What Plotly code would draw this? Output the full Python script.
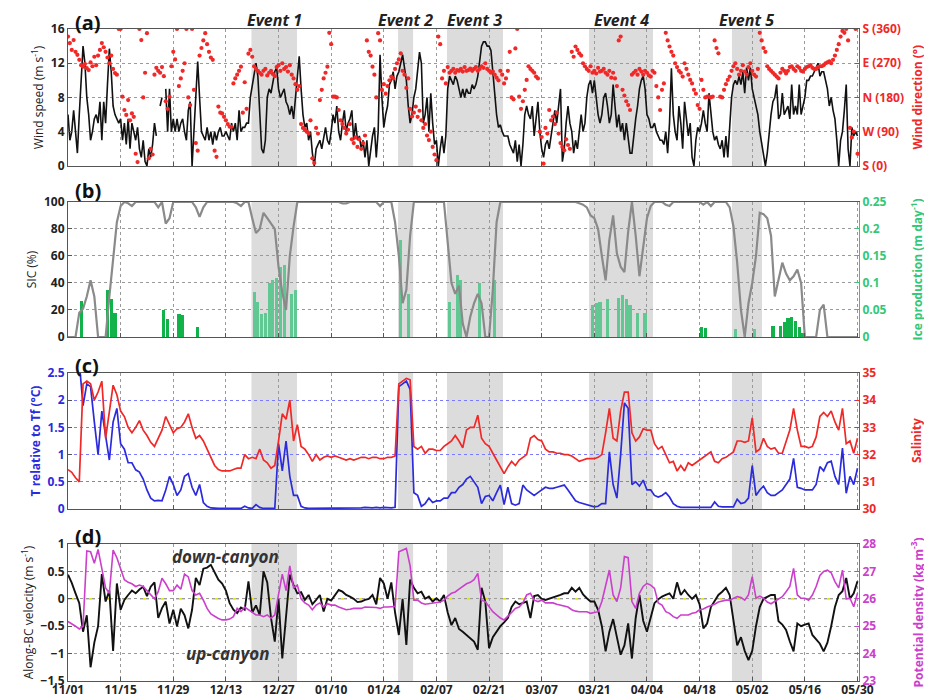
import numpy as np
import pandas as pd
import plotly.graph_objects as go

start = pd.Timestamp("2016-11-01")

# ---------------- (a) wind speed (m/s), 12-hourly ----------------
wind_speed = [
    6, 3, 4, 6.5, 4, 1.5, 6, 10, 14, 12,
    8, 6, 3, 4, 5.5, 6, 5, 7.5, 3, 7.5,
    5, 9.5, 13.7, 11, 7, 6, 5.5, 5, 5.5, 3,
    5, 2.5, 5.5, 2, 5, 4, 3, 4.5, 2, 1,
    3, 0.5, 0, 2, 1, 2.5, 5, 3.5, None, 7,
    8, None, 9, 4, 9, 4, 5.5, 4, 5.5, 4,
    5, 5.5, 4, 3, 6.5, 7.5, 0, 4.5, 9, 12.2,
    8, 4, 3.5, 3, 4.5, 3, 4, 2.5, 4, 3,
    4, 4.5, 3.5, 3.5, 4, 3.5, 3, 5, 4, 5,
    3, 6.5, 4, 4.5, 4.5, 5, 5, 8, 9.5, 11,
    12, 10.5, 6, 2, 1.5, 3, 8, 9, 8.5, 10,
    11, 11.5, 9, 8, 8.5, 9, 7.5, 7, 6, 7,
    5.5, 8, 11, 12.8, 9, 6, 4.5, 5, 3, 4,
    1.5, 0, 2, 2.5, 3, 2, 3.5, 4.5, 3, 2.5,
    4, 6, 5, 7, 4, 3, 5, 6.5, 4, 5,
    5.5, 6.5, 3, 5, 3, 3.5, 2, 3, 1, 3,
    0, 2, 3.5, 4.5, 1, 4, 13, 8, 4.5, 6,
    7, 9.5, 10, 11, 9, 10.5, 11, 12, 13, 11.5,
    10, 7, 5, 6, 8, 9, 11, 13.3, 12, 5,
    6, 8, 4, 8.5, 5, 2.5, 3, 0, 2, 3.5,
    1.5, 3.5, 9, 10.5, 10, 9.5, 10.5, 10, 9, 8,
    9, 8, 9, 8.5, 8.5, 9.5, 9, 9.5, 10.5, 12,
    14, 14.5, 14.5, 14, 14, 13.5, 11, 8, 6, 4.5,
    4.8, 4, 3.5, 3.5, 3.5, 2.5, 2, 1.5, 3, 0.5,
    2.5, 0, 2.5, 6, 7, 6, 5.5, 7, 3.5, 6,
    7.5, 4, 2, 1, 2.5, 3, 2, 3.5, 5, 6.5,
    5, 7, 9, 0.5, 2, 5, 7, 5, 4, 1.5,
    3, 2, 4, 6, 4, 5, 8, 9.5, 10, 8.5,
    10, 8, 6, 5, 6, 8, 8.5, 7, 5, 6,
    9.5, 7, 4.5, 6, 4, 5, 3, 5, 3, 1.5,
    1.5, 4, 5.5, 7, 9, 10, 10.5, 9, 6, 5.5,
    4.5, 4.5, 5, 4, 3.5, 3, 3, 2.5, 4, 1.5,
    5, 11.4, 6, 4, 3, 7, 5, 2, 7.5, 5,
    3.5, 5, 1, 0, 3, 4.5, 4, 5, 6.5, 5,
    4, 8.5, 6, 4, 3, 3.5, 2.5, 2, 3, 1,
    3.5, 1, 4.5, 8, 9.5, 10, 9.5, 10.5, 9.5, 11,
    8.5, 11.5, 10, 11.5, 9, 8, 7, 6, 4, 2.5,
    1, 0, 1.5, 4, 6, 7.5, 8, 9.5, 5.5, 6,
    8.5, 6, 6.5, 7, 5.5, 9.5, 6, 7, 6, 9.5,
    6, 7, 8, 10, 10, 10.5, 10.5, 11, 11.5, 12,
    10.5, 11, 11, 10, 9, 7, 8, 6.5, 5.5, 3,
    0, 3, 4, 6.5, 9.5, 2, 0, 4.5, 3.5, 4,
    3.5,
]

# wind direction (degrees), 12-hourly
wind_dir = [
    340, 323, 305, 331, 300, 292, 279, 265, 261, 268,
    257, 252, 272, 262, 287, 265, 290, 305, 323, 312,
    300, 285, 270, 290, 255, 244, 240, 360, 360, 182,
    147, 134, 173, 120, 138, 129, 32, 10, 360, 331,
    180, 245, 349, 20, 45, 30, 240, 258, 250, 245,
    260, 236, 170, 150, 182, 262, 300, 280, 360, 210,
    230, 250, 270, 360, 180, 160, 360, 200, 60, 40,
    290, 310, 330, 349, 320, 300, 285, 279, 40, 24,
    156, 140, 138, 129, 120, 110, 103, 103, 217, 230,
    240, 250, 261, 140, 220, 150, 295, 305, 287, 262,
    255, 250, 245, 240, 250, 255, 238, 245, 250, 242,
    236, 260, 265, 250, 270, 255, 260, 248, 265, 240,
    230, 215, 200, 210, 110, 100, 95, 90, 85, 120,
    20, 8, 100, 85, 173, 200, 230, 245, 261, 350,
    320, 182, 182, 180, 147, 120, 110, 100, 85, 95,
    110, 70, 60, 75, 50, 70, 45, 60, 80, 330,
    300, 290, 261, 240, 180, 349, 330, 200, 215, 190,
    210, 225, 235, 230, 255, 270, 280, 296, 250, 240,
    205, 230, 150, 130, 140, 156, 129, 145, 120, 100,
    110, 80, 68, 90, 50, 30, 15, 340, 320, 230,
    250, 217, 260, 245, 250, 255, 245, 252, 250, 255,
    248, 260, 250, 252, 256, 250, 255, 260, 250, 255,
    262, 258, 270, 255, 250, 245, 248, 240, 232, 225,
    250, 240, 217, 230, 250, 300, 180, 175, 309, 360,
    182, 150, 170, 200, 226, 262, 255, 250, 245, 235,
    230, 90, 76, 6, 100, 85, 147, 120, 130, 110,
    140, 85, 60, 50, 41, 70, 55, 45, 300, 287,
    314, 305, 296, 290, 270, 262, 255, 250, 262, 245,
    250, 243, 258, 248, 250, 255, 245, 240, 250, 232,
    245, 230, 210, 330, 340, 200, 185, 170, 160, 147,
    240, 245, 250, 240, 255, 248, 240, 250, 245, 238,
    235, 250, 245, 210, 180, 147, 200, 217, 350, 330,
    314, 300, 290, 270, 260, 250, 245, 235, 270, 255,
    240, 226, 217, 200, 190, 160, 150, 226, 200, 180,
    182, 182, 180, 182, 330, 310, 296, 182, 180, 200,
    215, 226, 235, 250, 262, 270, 255, 240, 250, 265,
    248, 240, 260, 270, 250, 240, 235, 255, 350, 330,
    310, 300, 262, 255, 250, 245, 240, 235, 230, 245,
    255, 250, 243, 250, 260, 262, 255, 250, 262, 258,
    250, 248, 255, 260, 262, 265, 258, 255, 255, 260,
    262, 262, 265, 270, 272, 275, 270, 279, 290, 305,
    320, 340, 355, 350, 360, 330, 100, 75, 90, 360,
    32,
]

# ---------------- (b) sea-ice concentration (%), daily ----------------
sic = [
    0, 0, 0, 18, 21, 30, 42, 30, 0, 0,
    0, 30, 55, 85, 97, 100, 99, 97, 100, 100,
    100, 100, 100, 100, 96, 100, 84, 88, 100, 100,
    100, 100, 100, 100, 96, 89, 96, 100, 100, 100,
    100, 100, 100, 100, 100, 99, 97, 100, 100, 88,
    77, 80, 92, 88, 84, 80, 52, 33, 20, 60,
    82, 100, 100, 100, 100, 100, 100, 100, 100, 100,
    100, 100, 100, 99, 99, 100, 100, 100, 100, 100,
    100, 100, 100, 97, 100, 100, 100, 85, 60, 25,
    35, 75, 100, 100, 100, 100, 100, 100, 100, 100,
    100, 70, 40, 32, 38, 10, 0, 15, 25, 32,
    25, 0, 0, 35, 85, 100, 100, 100, 100, 100,
    100, 100, 100, 100, 100, 100, 100, 100, 100, 100,
    100, 100, 100, 100, 100, 100, 99, 98, 96, 90,
    88, 80, 60, 42, 72, 90, 62, 52, 48, 78,
    100, 75, 45, 65, 88, 97, 100, 100, 100, 98,
    97, 100, 100, 100, 100, 100, 100, 100, 100, 98,
    100, 97, 100, 100, 100, 100, 96, 82, 55, 20,
    0, 25, 40, 60, 92, 91, 88, 75, 30, 42,
    55, 47, 42, 45, 50, 40, 0, 0, 0, 0,
    20, 24, 0, 0, 0, 0, 0, 0, 0, 0,
    0,
]

# ice production (m/day): day index since 11/01 and value
ice_day = [3, 10, 11, 12, 25, 26, 29, 30, 34, 49, 50, 51, 52, 53, 54, 55, 56, 57,
           59, 60, 88, 90, 101, 103, 104, 109, 113, 139, 140, 141, 143, 146, 147,
           148, 149, 151, 153, 168, 169, 177, 182, 187, 189, 190, 191, 192, 193, 194, 195]
ice_prod = [0.067, 0.088, 0.07, 0.045, 0.05, 0.033, 0.043, 0.04, 0.018, 0.083, 0.065,
            0.043, 0.045, 0.1, 0.105, 0.11, 0.13, 0.133, 0.08, 0.088, 0.18, 0.08,
            0.065, 0.115, 0.105, 0.1, 0.105, 0.06, 0.063, 0.065, 0.07, 0.072, 0.078,
            0.07, 0.06, 0.045, 0.045, 0.018, 0.017, 0.015, 0.015, 0.02, 0.02, 0.027,
            0.035, 0.038, 0.03, 0.018, 0.008]

# ---------------- (c) temperature above freezing and salinity, daily ----------------
temp_rel = [
    None, None, None, 2.7, 1.9, 2.3, 2.25, 1.6, 1.0, 1.8,
    1.3, 0.9, 1.6, 1.85, 1.2, 1.1, 0.85, 0.85, 0.72, 0.68,
    0.55, 0.35, 0.2, 0.15, 0.16, 0.15, 0.35, 0.6, 0.45, 0.25,
    0.35, 0.6, 0.65, 0.4, 0.25, 0.45, 0.12, 0.05, 0.02, 0.01,
    0.01, 0.01, 0.01, 0.01, 0.01, 0.02, 0.01, 0.05, 0.02, 0.01,
    0.08, 0.03, 0.01, 0.01, 0.01, 0.01, 1.2, 0.7, 1.25, 0.6,
    0.25, 0.25, 0.05, 0.02, 0.01, 0.01, 0.02, 0.01, 0.01, 0.02,
    0.01, 0.01, 0.02, 0.01, 0.01, 0.02, 0.01, 0.01, 0.02, 0.03,
    0.02, 0.02, 0.03, 0.02, 0.03, 0.02, 0.02, 0.03, 2.25, 2.3,
    2.35, 2.2, 0.3, 0.25, 0.05, 0.1, 0.2, 0.12, 0.15, 0.15,
    0.2, 0.2, 0.3, 0.3, 0.4, 0.45, 0.55, 0.6, 0.5, 0.4,
    0.1, 0.23, 0.25, 0.15, 0.3, 0.44, 0.08, 0.4, 0.1, 0.07,
    0.1, 0.44, 0.35, 0.3, 0.25, 0.3, 0.35, 0.4, 0.38, 0.38,
    0.4, 0.42, 0.44, 0.35, 0.25, 0.15, 0.12, 0.1, 0.07, 0.05,
    0.04, 0.05, 0.1, 0.1, 1.05, 0.45, 0.2, 1.0, 1.95, 1.85,
    0.45, 0.5, 0.42, 0.53, 0.35, 0.35, 0.25, 0.22, 0.25, 0.3,
    0.22, 0.1, 0.05, 0.03, 0.03, 0.03, 0.03, 0.03, 0.03, 0.04,
    0.03, 0.03, 0.13, 0.05, 0.04, 0.04, 0.04, 0.04, 0.18, 0.1,
    0.12, 0.2, 0.8, 0.25, 0.35, 0.42, 0.3, 0.25, 0.25, 0.3,
    0.35, 0.45, 0.55, 0.93, 0.4, 0.38, 0.35, 0.35, 0.35, 0.45,
    0.78, 0.7, 0.85, 0.88, 0.6, 0.45, 1.12, 0.29, 0.6, 0.45,
    0.75,
]

salinity = [
    31.45, 31.35, 31.15, 31.0, 34.6, 34.7, 34.6, 34.0, 34.3, 34.7,
    32.6, 33.5, 34.55, 34.2, 33.6, 33.4, 33.0, 32.8, 33.0, 33.25,
    32.9, 32.7, 32.45, 32.3, 32.6, 32.9, 33.4, 33.1, 32.8, 32.95,
    33.0, 33.2, 33.5, 33.0, 32.6, 32.7, 32.5, 32.2, 31.9, 31.6,
    31.45, 31.4, 31.4, 31.4, 31.45, 31.5, 31.5, 32.0, 31.85, 31.9,
    31.85, 32.2, 31.8, 31.7, 31.5, 31.6, 32.5, 33.5, 33.3, 34.0,
    32.5, 33.1, 32.3, 32.2, 32.0, 31.75, 32.0, 31.8, 31.9, 31.95,
    31.9, 31.95, 31.9, 31.85, 31.8, 31.85, 31.8, 31.85, 31.9, 31.9,
    31.85, 31.9, 31.9, 31.85, 31.85, 31.9, 31.9, 31.95, 34.6, 34.7,
    34.8, 34.75, 32.3, 32.2, 32.3, 32.05, 32.2, 32.2, 32.15, 32.15,
    32.3, 32.4, 32.5, 32.7, 32.5, 32.25, 32.9, 33.0, 33.0, 33.45,
    32.6, 32.4, 32.3, 32.05, 31.8, 31.5, 31.3, 31.55, 31.75, 31.6,
    31.8, 31.9, 32.0, 32.6, 32.7, 32.55, 32.5, 32.2, 32.1, 32.1,
    32.05, 32.05, 32.0, 32.0, 31.95, 31.85, 31.75, 31.8, 31.85, 31.85,
    31.85, 31.9, 32.0, 32.8, 33.7, 32.6, 32.5, 33.6, 34.3, 34.3,
    32.8, 32.5, 32.65, 32.95, 32.9, 32.9, 32.4, 32.2, 32.3, 32.0,
    31.7, 31.75, 31.4, 31.6, 31.4, 31.7, 31.6, 31.7, 31.8, 31.9,
    32.0, 32.1, 31.75, 31.7, 31.85, 31.9, 32.0, 32.1, 32.5, 32.5,
    32.45, 32.5, 33.35, 32.1, 32.2, 32.6, 32.3, 32.2, 32.25, 32.05,
    32.05, 32.5, 32.9, 33.7, 32.9, 32.3, 32.3, 32.25, 32.3, 32.65,
    33.4, 33.55, 33.4, 33.6, 33.2, 32.9, 33.7, 32.4, 32.5, 32.05,
    32.6,
]

# ---------------- (d) along-BC velocity (m/s) and potential density, daily ----------------
velocity = [
    0.44, 0.29, 0.1, -0.08, -0.6, -0.3, -1.25, -0.8, -0.5, 0.45,
    -0.05, 0.15, -0.95, 0.28, -0.2, -0.02, 0.07, 0.15, 0.1, 0.17,
    0.22, 0.05, 0.22, 0.3, -0.35, -0.17, -0.05, -0.45, -0.2, -0.5,
    -0.18, -0.3, -0.54, -0.2, 0.38, 0.25, 0.55, 0.57, 0.62, 0.48,
    0.35, 0.28, 0.15, -0.08, -0.2, -0.26, -0.16, -0.2, 0.32, -0.25,
    -0.12, -0.3, 0.5, 0.3, -0.35, -0.78, 0.0, -1.09, -0.3, 0.44,
    0.25, 0.1, 0.12, -0.02, 0.07, -0.1, -0.02, 0.07, -0.23, 0.0,
    -0.03, 0.07, 0.16, 0.13, 0.07, 0.04, 0.0, -0.06, -0.05, -0.02,
    0.0, 0.07, -0.1, 0.38, 0.28, 0.0, 0.3, -0.25, -0.66, 0.0,
    -0.84, 0.35, 0.2, 0.1, 0.13, 0.0, 0.04, -0.05, 0.01, -0.05,
    0.07, -0.25, -0.48, -0.35, -0.55, -0.6, -0.66, -0.72, -0.78, -0.93,
    0.2, -0.05, -0.9, -0.7, -0.6, -0.5, -0.43, -0.35, -0.15, -0.05,
    -0.1, -0.08, -0.05, -0.35, 0.05, 0.07, 0.0, -0.02, 0.0, 0.02,
    0.04, 0.07, 0.1, 0.1, 0.2, 0.13, 0.2, 0.08, 0.01, -0.05,
    -0.05, -0.2, -0.5, -0.96, -0.6, -0.37, -0.7, -1.02, -0.85, -0.45,
    -1.09, -0.35, 0.07, -0.4, -0.6, -0.35, -0.08, -0.01, 0.04, 0.07,
    0.1, 0.0, 0.3, 0.07, 0.16, 0.07, 0.0, 0.07, -0.1, -0.54,
    -0.45, -0.15, -0.05, 0.07, 0.13, 0.2, 0.07, -0.4, -0.85, -0.7,
    -0.95, -1.12, -0.95, -0.5, -0.15, 0.0, 0.04, 0.07, 0.07, -0.41,
    -0.47, -0.57, -0.78, -0.96, -0.45, -0.5, -0.47, -0.45, -0.66, -0.75,
    -0.82, -0.96, -0.8, -0.5, -0.15, 0.07, 0.14, 0.38, 0.0, 0.1,
    0.32,
]

density = [
    25.17, 25.1, 25.0, 24.9, 25.0, 27.75, 27.72, 27.3, 27.8, 27.1,
    26.4, 26.2, 27.78, 27.5, 27.1, 26.7, 26.6, 26.55, 26.45, 26.5,
    26.45, 26.3, 26.15, 26.0, 26.26, 26.75, 26.55, 26.3, 26.3, 26.5,
    26.35, 26.9, 26.8, 26.3, 26.14, 26.2, 25.95, 25.65, 25.45, 25.35,
    25.28, 25.23, 25.23, 25.26, 25.35, 25.65, 25.53, 25.7, 25.6, 25.53,
    25.41, 25.41, 25.35, 25.41, 25.29, 25.41, 26.1, 26.9, 26.3, 27.2,
    26.4, 26.5, 26.0, 25.85, 25.77, 25.6, 25.77, 25.85, 25.7, 25.82,
    25.77, 25.77, 25.7, 25.65, 25.6, 25.62, 25.65, 25.65, 25.65, 25.7,
    25.7, 25.7, 25.68, 25.65, 25.7, 25.7, 25.7, 25.72, 27.72, 27.78,
    27.84, 27.2, 25.95, 25.95, 25.85, 25.8, 25.82, 25.82, 25.85, 25.88,
    25.95, 26.1, 26.2, 26.25, 26.35, 26.45, 26.55, 26.6, 26.7, 26.93,
    25.95, 25.9, 25.7, 25.53, 25.41, 25.3, 25.23, 25.35, 25.5, 25.65,
    25.7, 25.85, 26.14, 26.2, 25.95, 25.9, 25.95, 25.85, 25.85, 25.85,
    25.8, 25.77, 25.72, 25.7, 25.6, 25.55, 25.53, 25.53, 25.53, 25.47,
    25.5, 25.53, 25.9, 26.5, 27.05, 26.14, 25.9, 26.4, 27.54, 27.5,
    25.9, 25.65, 26.2, 26.45, 26.56, 26.5, 26.38, 25.85, 25.77, 25.53,
    25.47, 25.35, 25.29, 25.41, 25.4, 25.41, 25.47, 25.5, 25.6, 25.63,
    25.7, 25.75, 25.8, 25.88, 25.92, 25.95, 25.95, 26.02, 26.08, 26.05,
    25.95, 26.14, 26.81, 26.02, 26.1, 26.02, 25.88, 25.82, 25.9, 26.0,
    26.08, 26.26, 26.45, 27.11, 26.14, 26.02, 26.02, 25.95, 26.14, 26.45,
    26.85, 27.0, 27.05, 26.95, 26.63, 26.4, 27.05, 26.0, 26.02, 25.71,
    26.2,
]

# event periods (days since 11/01)
event_names = ["Event 1", "Event 2", "Event 3", "Event 4", "Event 5"]
event_start = [48.8, 87.8, 100.8, 138.6, 176.6]
event_end = [60.9, 91.8, 115.7, 155.6, 184.6]

dir_ticks = [0, 90, 180, 270, 360]
dir_labels = ["S (0)", "W (90)", "N (180)", "E (270)", "S (360)"]

assert len(wind_speed) == len(wind_dir) == 421
for arr in (sic, temp_rel, salinity, velocity, density):
    assert len(arr) == 211

# ---------------- build ----------------
half_day = start + pd.to_timedelta(np.arange(len(wind_speed)) * 12, unit="h")
daily = start + pd.to_timedelta(np.arange(len(sic)), unit="D")


def day_to_date(d):
    return (start + pd.Timedelta(minutes=int(round(d * 1440)))).strftime("%Y-%m-%d %H:%M")


ice_x = [day_to_date(d + 0.5) for d in ice_day]
in_event = [any(s <= d + 0.5 <= e for s, e in zip(event_start, event_end)) for d in ice_day]
ice_colors = ["#62c893" if f else "#12b24a" for f in in_event]

RED = "#f02828"
GREEN = "#33c878"
BLUE = "#2b2bdd"
MAGENTA = "#cc3fcc"
FONT = "Open Sans"

fig = go.Figure()

# (a)
fig.add_trace(go.Scatter(x=half_day, y=wind_speed, mode="lines",
                         line=dict(color="#111", width=1.6), xaxis="x", yaxis="y",
                         connectgaps=False))
fig.add_trace(go.Scatter(x=half_day, y=wind_dir, mode="markers",
                         marker=dict(color=RED, size=4.2), xaxis="x", yaxis="y2"))
# (b)
fig.add_trace(go.Bar(x=ice_x, y=ice_prod, marker=dict(color=ice_colors, line=dict(width=0)),
                     width=0.85 * 86400000, xaxis="x2", yaxis="y4"))
fig.add_trace(go.Scatter(x=daily, y=sic, mode="lines",
                         line=dict(color="#8a8a8a", width=2.2), xaxis="x2", yaxis="y3"))
# (c)
fig.add_trace(go.Scatter(x=daily, y=temp_rel, mode="lines",
                         line=dict(color=BLUE, width=1.7), xaxis="x3", yaxis="y5"))
fig.add_trace(go.Scatter(x=daily, y=salinity, mode="lines",
                         line=dict(color=RED, width=1.7), xaxis="x3", yaxis="y6"))
# (d)
fig.add_trace(go.Scatter(x=daily, y=velocity, mode="lines",
                         line=dict(color="#111", width=1.9), xaxis="x4", yaxis="y7"))
fig.add_trace(go.Scatter(x=daily, y=density, mode="lines",
                         line=dict(color=MAGENTA, width=1.6), xaxis="x4", yaxis="y8"))

dom_a = [0.790, 1.0]
dom_b = [0.5276, 0.7347]
dom_c = [0.2638, 0.4724]
dom_d = [0.0, 0.2101]

x_range = [day_to_date(0), day_to_date(210.4)]
DAY = 86400000


def xaxis(anchor, show_labels):
    return dict(anchor=anchor, domain=[0, 1], type="date", range=x_range, automargin=False,
                tick0=day_to_date(0), dtick=14 * DAY, tickformat="%m/%d",
                showticklabels=show_labels, ticks="inside", ticklen=4, tickcolor="#555",
                ticklabelstandoff=-2,
                showgrid=True, gridcolor="#9a9a9a", griddash="dot", gridwidth=1,
                showline=True, mirror=True, linecolor="#555", linewidth=1,
                tickfont=dict(family=FONT, size=12, color="#222", weight="bold"),
                zeroline=False)


def left_axis(domain, rng, dtick, title, color="#222", gridcolor="#9a9a9a", anchor="x",
              overlaying=None, tcolor=None, tweight="normal"):
    d = dict(range=rng, dtick=dtick, anchor=anchor, side="left", automargin=False,
             ticks="inside", ticklen=4, tickcolor="#555",
             showgrid=True, gridcolor=gridcolor, griddash="dot", gridwidth=1,
             showline=True, linecolor="#555", linewidth=1, zeroline=False,
             tickfont=dict(family=FONT, size=12, color=color, weight="bold"),
             title=dict(text=title, standoff=4,
                        font=dict(family=FONT, size=12, color=tcolor or color, weight=tweight)))
    if overlaying:
        d["overlaying"] = overlaying
    else:
        d["domain"] = domain
    return d


def right_axis(domain, rng, color, anchor, overlaying=None, **kw):
    d = dict(range=rng, anchor=anchor, side="right", automargin=False,
             ticks="inside", ticklen=4, tickcolor=color,
             showgrid=False, showline=True, linecolor=color, linewidth=1, zeroline=False,
             tickfont=dict(family=FONT, size=12, color=color, weight="bold"))
    if overlaying:
        d["overlaying"] = overlaying
    else:
        d["domain"] = domain
    d.update(kw)
    return d


# the page body adds an 8 px offset; figure size and margins compensate for it
layout = dict(
    width=924, height=692,
    margin=dict(l=60, r=73, t=21, b=19, autoexpand=False),
    paper_bgcolor="white", plot_bgcolor="white",
    showlegend=False, bargap=0,
    xaxis=xaxis("y", False),
    xaxis2=xaxis("y4", False),
    xaxis3=xaxis("y5", False),
    xaxis4=xaxis("y7", True),
    yaxis=left_axis(dom_a, [0, 16], 4, "Wind speed (m s<sup>-1</sup>)", anchor="x"),
    yaxis2=right_axis(None, [0, 360], RED, "x", overlaying="y",
                      tickvals=dir_ticks, ticktext=dir_labels),
    yaxis4=right_axis(dom_b, [0, 0.25], GREEN, "x2",
                      tickvals=[0, 0.05, 0.1, 0.15, 0.2, 0.25],
                      ticktext=["0", "0.05", "0.1", "0.15", "0.2", "0.25"]),
    yaxis3=left_axis(None, [0, 100], 20, "SIC (%)", anchor="x2", overlaying="y4"),
    yaxis5=left_axis(dom_c, [0, 2.5], 0.5, "T relative to Tf (°C)", color=BLUE,
                     gridcolor="#7a7aff", anchor="x3", tweight="bold"),
    yaxis6=right_axis(None, [30, 35], RED, "x3", overlaying="y5", dtick=1),
    yaxis7=left_axis(dom_d, [-1.5, 1], 0.5, "Along-BC velocity (m s<sup>-1</sup>)", anchor="x4"),
    yaxis8=right_axis(None, [23, 28], MAGENTA, "x4", overlaying="y7", dtick=1),
)
fig.update_layout(**layout)

# event shading
shapes = []
for xr, yr in [("x", "y domain"), ("x2", "y4 domain"), ("x3", "y5 domain"), ("x4", "y7 domain")]:
    for s, e in zip(event_start, event_end):
        shapes.append(dict(type="rect", xref=xr, yref=yr,
                           x0=day_to_date(s), x1=day_to_date(e),
                           y0=0, y1=1, fillcolor="#dcdcdc", line=dict(width=0), layer="below"))
shapes.append(dict(type="line", xref="x4 domain", yref="y7", x0=0, x1=1, y0=0, y1=0,
                   line=dict(color="#e6e600", width=1.8, dash="dash"), layer="below"))
fig.update_layout(shapes=shapes)

ann = []
for name, s, e in zip(event_names, event_start, event_end):
    ann.append(dict(xref="x", yref="paper", x=day_to_date((s + e) / 2), y=1.0,
                    yanchor="bottom", xanchor="center", showarrow=False, yshift=-4,
                    text="<b><i>" + name + "</i></b>",
                    font=dict(family=FONT, size=16, color="#222")))
for lab, dom, ys in [("(a)", dom_a, 7), ("(b)", dom_b, 11), ("(c)", dom_c, 7), ("(d)", dom_d, 8)]:
    ann.append(dict(xref="paper", yref="paper", x=0.006, y=dom[1], xanchor="left",
                    yanchor="middle", yshift=ys, showarrow=False, text="<b>" + lab + "</b>",
                    font=dict(family=FONT, size=20, color="#111")))
# right-hand axis titles
for txt, dom, col in [("Wind direction (°)", dom_a, RED),
                      ("Ice production (m day<sup>-1</sup>)", dom_b, GREEN),
                      ("Salinity", dom_c, RED),
                      ("Potential density (kg m<sup>-3</sup>)", dom_d, MAGENTA)]:
    ann.append(dict(xref="paper", yref="paper", x=1.0, y=(dom[0] + dom[1]) / 2,
                    xanchor="center", yanchor="middle", xshift=58, textangle=-90,
                    showarrow=False, text="<b>" + txt + "</b>",
                    font=dict(family=FONT, size=12, color=col)))
ann.append(dict(xref="x4", yref="y7", x=day_to_date(42), y=0.78,
                showarrow=False, text="<b><i>down-canyon</i></b>",
                font=dict(family=FONT, size=17, color="#333")))
ann.append(dict(xref="x4", yref="y7", x=day_to_date(42.5), y=-1.0,
                showarrow=False, text="<b><i>up-canyon</i></b>",
                font=dict(family=FONT, size=17, color="#333")))
fig.update_layout(annotations=ann)

fig.write_html("out.html")
